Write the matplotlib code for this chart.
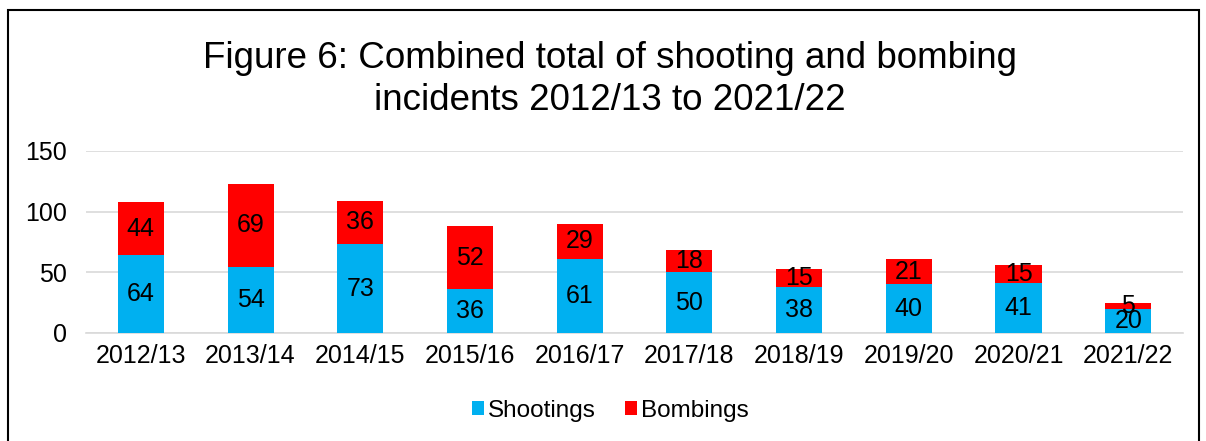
import numpy as np
import matplotlib.pyplot as plt
from matplotlib.patches import Rectangle

plt.rcParams['font.family'] = ['Liberation Sans', 'DejaVu Sans']

years = ["2012/13", "2013/14", "2014/15", "2015/16", "2016/17",
         "2017/18", "2018/19", "2019/20", "2020/21", "2021/22"]
shootings = [64, 54, 73, 36, 61, 50, 38, 40, 41, 20]
bombings = [44, 69, 36, 52, 29, 18, 15, 21, 15, 5]

fig = plt.figure(figsize=(12.06, 4.41), dpi=100)
ax = fig.add_axes([0.0713, 0.245, 0.9097, 0.413])

x = np.arange(len(years))
w = 0.42
ax.bar(x, shootings, w, color='#00b0f0', label='Shootings', zorder=3)
ax.bar(x, bombings, w, bottom=shootings, color='#ff0000', label='Bombings', zorder=3)

# labels centred in each segment
for i in range(len(years)):
    ax.text(x[i], shootings[i] / 2, str(shootings[i]), ha='center', va='center',
            fontsize=18, zorder=4)
    ax.text(x[i], shootings[i] + bombings[i] / 2, str(bombings[i]), ha='center',
            va='center', fontsize=18, zorder=4)

ax.set_xlim(-0.5, len(years) - 0.5)
ax.set_ylim(0, 150)
ax.set_yticks([0, 50, 100, 150])
ax.set_xticks(x)
ax.set_xticklabels(years)
ax.tick_params(axis='both', length=0, labelsize=18, pad=8)
ax.tick_params(axis='y', pad=14)
ax.grid(axis='y', color='#d9d9d9', linewidth=1.2, zorder=0)
for s in ['top', 'right', 'left']:
    ax.spines[s].set_visible(False)
ax.spines['bottom'].set_color('#d9d9d9')
ax.spines['bottom'].set_linewidth(1.2)

fig.text(0.506, 0.82, "Figure 6: Combined total of shooting and bombing\nincidents 2012/13 to 2021/22",
         ha='center', va='center', fontsize=26.5, linespacing=1.27)

fig.legend(loc='center', bbox_to_anchor=(0.506, 0.068), ncol=2, frameon=False,
           fontsize=17.5, handlelength=0.5, handleheight=0.5, handletextpad=0.15,
           columnspacing=1.2)

fig.patches.append(Rectangle((0.0066, -0.05), 0.988, 1.027, transform=fig.transFigure,
                             fill=False, edgecolor='black', linewidth=1.5))

fig.savefig('out.png', dpi=100)
